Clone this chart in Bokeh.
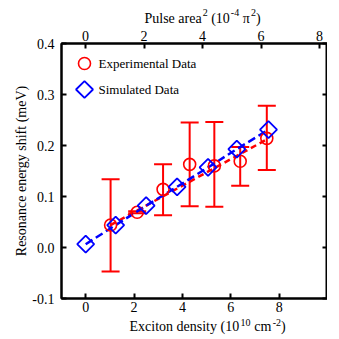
import numpy as np
from bokeh.plotting import figure
from bokeh.models import (Range1d, LinearAxis, Whisker, TeeHead, ColumnDataSource,
                          FixedTicker, Label)
from bokeh.embed import file_html
from bokeh.resources import INLINE

# ---- data ----
exp_x = [1.03, 2.13, 3.20, 4.30, 5.32, 6.39, 7.49]
exp_y = [0.044, 0.069, 0.114, 0.163, 0.160, 0.169, 0.214]
exp_upper = [0.134, 0.071, 0.163, 0.245, 0.246, 0.197, 0.278]
exp_lower = [-0.047, 0.067, 0.063, 0.081, 0.080, 0.121, 0.152]
fit_x = [1.03, 7.49]
fit_y = [0.044, 0.212]
sim_x = [0.0, 1.24, 2.50, 3.78, 5.06, 6.25, 7.56]
sim_y = [0.0065, 0.044, 0.082, 0.119, 0.157, 0.193, 0.231]
x_ticks = [0, 2, 4, 6, 8]
top_ticks = [0, 2, 4, 6, 8]
y_ticks = [-0.1, 0.0, 0.1, 0.2, 0.3, 0.4]
series_names = ["Experimental Data", "Simulated Data"]
y_title = "Resonance energy shift (meV)"
# axis titles as (text, is_superscript) pieces
x_title = [("Exciton density (10", False), ("10", True), ("cm", False), ("-2", True), (")", False)]
top_title = [("Pulse area", False), ("2", True), ("(10", False), ("-4", True), ("π", False),
             ("2", True), (")", False)]

FONT = "Liberation Serif"
FW, FH = 266, 255
XR = (-1.0, 10.0)
YR = (-0.1, 0.4)
MAIN, SUP = 14, 10

p = figure(frame_width=FW, frame_height=FH, output_backend="svg", toolbar_location=None,
           x_range=Range1d(*XR), y_range=Range1d(*YR),
           min_border=0, x_axis_location=None, y_axis_location=None)
p.extra_x_ranges = {"top": Range1d(-0.82, 8.27)}
p.grid.visible = False
p.outline_line_color = "black"
p.outline_line_width = 2
p.background_fill_color = "white"
p.border_fill_color = "white"


def style(ax, labels=True, standoff=3):
    ax.axis_line_width = 2
    ax.axis_line_color = "black"
    ax.major_tick_in = 5
    ax.major_tick_out = 0
    ax.major_tick_line_width = 2
    ax.minor_tick_line_color = None
    ax.major_label_text_font = FONT
    ax.major_label_text_font_size = f"{MAIN}px"
    ax.major_label_text_color = "black" if labels else None
    ax.axis_label_text_font = FONT
    ax.axis_label_text_font_size = f"{MAIN}px"
    ax.axis_label_text_font_style = "normal"
    ax.axis_label_text_color = "black"
    ax.major_label_standoff = standoff


def text_only_axis(ticks, labels, size, standoff):
    ax = LinearAxis(ticker=FixedTicker(ticks=ticks),
                    major_label_overrides=dict(zip(ticks, labels)))
    ax.axis_line_color = None
    ax.major_tick_line_color = None
    ax.minor_tick_line_color = None
    ax.major_tick_in = 0
    ax.major_tick_out = 0
    ax.major_label_text_font = FONT
    ax.major_label_text_font_size = f"{size}px"
    ax.major_label_text_color = "black"
    ax.major_label_standoff = standoff
    return ax


def pad_axis(size):
    ax = LinearAxis(ticker=FixedTicker(ticks=[]), axis_label=" ")
    ax.axis_line_color = None
    ax.major_tick_out = 0
    ax.major_tick_in = 0
    ax.major_label_standoff = 0
    ax.axis_label_text_font_size = "1px"
    ax.axis_label_standoff = size
    return ax


# Times / Liberation Serif advance widths (1/1000 em)
W = {" ": 250, "(": 333, ")": 333, "-": 333, "E": 611, "x": 500, "c": 444, "i": 278,
     "t": 278, "o": 500, "n": 500, "d": 500, "e": 444, "s": 389, "y": 500, "m": 778,
     "P": 556, "u": 500, "l": 278, "a": 444, "r": 333, "π": 520}


def text_width(s, size):
    return sum(W.get(ch, 500) for ch in s) * size / 1000.0


def layout_title(pieces, start_px, gap=0.0):
    """Return centre positions (data x) for main and superscript pieces."""
    main_t, main_l, sup_t, sup_l = [], [], [], []
    x = start_px
    prev_sup = False
    for i, (txt, sup) in enumerate(pieces):
        if sup:
            x += 1 + gap
        elif i > 0 and prev_sup and txt != ")":
            x += text_width(" ", MAIN) + gap
        fs = SUP if sup else MAIN
        wdt = text_width(txt, fs)
        centre = round(XR[0] + (x + wdt / 2) / FW * (XR[1] - XR[0]), 4)
        (sup_t if sup else main_t).append(centre)
        (sup_l if sup else main_l).append(txt)
        x += wdt
        prev_sup = sup
    return main_t, main_l, sup_t, sup_l


# bottom axis + title rows
bottom = LinearAxis(ticker=FixedTicker(ticks=x_ticks))
style(bottom, standoff=3)
p.add_layout(bottom, "below")
bm_t, bm_l, bs_t, bs_l = layout_title(x_title, 68, gap=0.3)
p.add_layout(text_only_axis(bs_t, bs_l, SUP, 4), "below")
p.add_layout(text_only_axis(bm_t, bm_l, MAIN, -10), "below")

# top axis + title rows
top = LinearAxis(x_range_name="top", ticker=FixedTicker(ticks=top_ticks))
style(top, standoff=3)
p.add_layout(top, "above")
tm_t, tm_l, ts_t, ts_l = layout_title(top_title, 83)
p.add_layout(text_only_axis(tm_t, tm_l, MAIN, 2), "above")
p.add_layout(text_only_axis(ts_t, ts_l, SUP, -8), "above")
p.add_layout(pad_axis(1), "above")

# left axis
left = LinearAxis(ticker=FixedTicker(ticks=y_ticks), axis_label=y_title)
style(left, standoff=7)
left.major_label_overrides = {-0.1: "-0.1", 0.0: "0.0", 0.1: "0.1", 0.2: "0.2", 0.3: "0.3", 0.4: "0.4"}
left.axis_label_standoff = 0
p.add_layout(left, "left")
p.add_layout(pad_axis(7), "left")

right = LinearAxis(ticker=FixedTicker(ticks=y_ticks))
style(right, labels=False, standoff=0)
right.major_label_text_font_size = "0px"
p.add_layout(right, "right")

# error bars
src = ColumnDataSource(dict(x=exp_x, y=exp_y, up=exp_upper, lo=exp_lower))
w = Whisker(base="x", upper="up", lower="lo", source=src, line_color="red", line_width=2,
            upper_head=TeeHead(size=18, line_color="red", line_width=2),
            lower_head=TeeHead(size=18, line_color="red", line_width=2))
p.add_layout(w)

p.line(fit_x, fit_y, line_color="red", line_width=2.5, line_dash="6 4")
p.line(sim_x, sim_y, line_color="blue", line_width=2.5, line_dash="8 4")

p.scatter(exp_x, exp_y, marker="circle", size=12, fill_color=None,
          line_color="red", line_width=1.6)
p.scatter(sim_x, sim_y, marker="square", angle=np.pi / 4, size=12, fill_color=None,
          line_color="blue", line_width=1.8)


# ---- manual legend (markers placed from pixel offsets inside the frame) ----
def px_to_data(px, py):
    return (XR[0] + px / FW * (XR[1] - XR[0]), YR[1] - py / FH * (YR[1] - YR[0]))


lx, ly1 = px_to_data(23, 20)
_, ly2 = px_to_data(23, 46)
p.scatter([lx], [ly1], marker="circle", size=12, fill_color=None, line_color="red", line_width=1.6)
p.scatter([lx], [ly2], marker="square", angle=np.pi / 4, size=12, fill_color=None,
          line_color="blue", line_width=1.8)
for name, py in zip(series_names, [20, 46]):
    p.add_layout(Label(x=37, y=FH - py, x_units="screen", y_units="screen", text=name,
                       text_font=FONT, text_font_size="13px", text_baseline="middle",
                       text_align="left", text_color="black"))

open("out.html", "w").write(file_html(p, INLINE))
